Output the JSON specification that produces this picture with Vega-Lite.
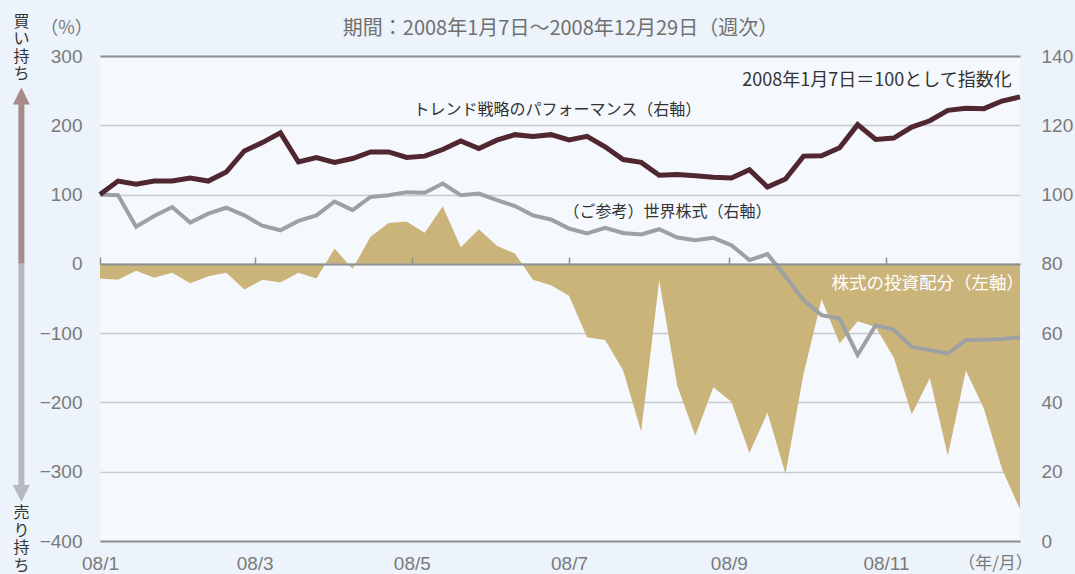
{
  "$schema": "https://vega.github.io/schema/vega-lite/v6.json",
  "width": 920,
  "height": 485,
  "autosize": {"type": "none"},
  "padding": {"left": 100, "top": 56, "right": 55, "bottom": 33},
  "background": "#ECF3FA",
  "config": {
    "view": {"fill": "#F5F9FD", "stroke": null},
    "font": "Noto Sans CJK JP",
    "axis": {
      "labelFont": "Liberation Sans",
      "labelFontSize": 19,
      "labelColor": "#7A7A7A",
      "labelFlush": false,
      "titleFont": "Noto Sans CJK JP",
      "titleFontWeight": "normal",
      "titleColor": "#707070",
      "grid": false,
      "ticks": false,
      "domain": false
    }
  },
  "data": {
    "values": [
      {"date": "2008-01-07", "alloc": -21, "perf": 100.0, "world": 100.0},
      {"date": "2008-01-14", "alloc": -23, "perf": 103.9, "world": 99.8},
      {"date": "2008-01-21", "alloc": -10, "perf": 103.0, "world": 90.7},
      {"date": "2008-01-28", "alloc": -20, "perf": 103.9, "world": 93.8},
      {"date": "2008-02-04", "alloc": -13, "perf": 103.9, "world": 96.4},
      {"date": "2008-02-11", "alloc": -28, "perf": 104.8, "world": 91.9},
      {"date": "2008-02-18", "alloc": -18, "perf": 103.9, "world": 94.5},
      {"date": "2008-02-25", "alloc": -13, "perf": 106.5, "world": 96.2},
      {"date": "2008-03-03", "alloc": -37, "perf": 112.6, "world": 94.0},
      {"date": "2008-03-10", "alloc": -23, "perf": 115.0, "world": 91.0},
      {"date": "2008-03-17", "alloc": -27, "perf": 117.8, "world": 89.7},
      {"date": "2008-03-24", "alloc": -13, "perf": 109.4, "world": 92.4},
      {"date": "2008-03-31", "alloc": -21, "perf": 110.7, "world": 94.0},
      {"date": "2008-04-07", "alloc": 22, "perf": 109.3, "world": 98.0},
      {"date": "2008-04-14", "alloc": -7, "perf": 110.4, "world": 95.5},
      {"date": "2008-04-21", "alloc": 39, "perf": 112.3, "world": 99.3},
      {"date": "2008-04-28", "alloc": 59, "perf": 112.3, "world": 99.8},
      {"date": "2008-05-05", "alloc": 61, "perf": 110.7, "world": 100.7},
      {"date": "2008-05-12", "alloc": 45, "perf": 111.1, "world": 100.5},
      {"date": "2008-05-19", "alloc": 83, "perf": 113.0, "world": 103.2},
      {"date": "2008-05-26", "alloc": 24, "perf": 115.5, "world": 99.8},
      {"date": "2008-06-02", "alloc": 50, "perf": 113.3, "world": 100.3},
      {"date": "2008-06-09", "alloc": 26, "perf": 115.7, "world": 98.4},
      {"date": "2008-06-16", "alloc": 15, "perf": 117.3, "world": 96.7},
      {"date": "2008-06-23", "alloc": -23, "perf": 116.8, "world": 94.0},
      {"date": "2008-06-30", "alloc": -31, "perf": 117.3, "world": 92.8},
      {"date": "2008-07-07", "alloc": -46, "perf": 115.8, "world": 90.2},
      {"date": "2008-07-14", "alloc": -106, "perf": 116.8, "world": 88.8},
      {"date": "2008-07-21", "alloc": -110, "perf": 113.8, "world": 90.4},
      {"date": "2008-07-28", "alloc": -154, "perf": 110.1, "world": 88.9},
      {"date": "2008-08-04", "alloc": -242, "perf": 109.3, "world": 88.5},
      {"date": "2008-08-11", "alloc": -24, "perf": 105.6, "world": 90.0},
      {"date": "2008-08-18", "alloc": -176, "perf": 105.8, "world": 87.6},
      {"date": "2008-08-25", "alloc": -248, "perf": 105.4, "world": 86.8},
      {"date": "2008-09-01", "alloc": -178, "perf": 105.0, "world": 87.5},
      {"date": "2008-09-08", "alloc": -199, "perf": 104.8, "world": 85.4},
      {"date": "2008-09-15", "alloc": -273, "perf": 107.2, "world": 81.1},
      {"date": "2008-09-22", "alloc": -215, "perf": 102.2, "world": 82.8},
      {"date": "2008-09-29", "alloc": -303, "perf": 104.5, "world": 76.4},
      {"date": "2008-10-06", "alloc": -159, "perf": 111.1, "world": 69.5},
      {"date": "2008-10-13", "alloc": -51, "perf": 111.2, "world": 65.2},
      {"date": "2008-10-20", "alloc": -115, "perf": 113.5, "world": 64.2},
      {"date": "2008-10-27", "alloc": -83, "perf": 120.2, "world": 53.7},
      {"date": "2008-11-03", "alloc": -91, "perf": 115.9, "world": 62.3},
      {"date": "2008-11-10", "alloc": -135, "perf": 116.3, "world": 61.0},
      {"date": "2008-11-17", "alloc": -217, "perf": 119.5, "world": 56.0},
      {"date": "2008-11-24", "alloc": -165, "perf": 121.3, "world": 55.1},
      {"date": "2008-12-01", "alloc": -277, "perf": 124.3, "world": 54.1},
      {"date": "2008-12-08", "alloc": -154, "perf": 124.9, "world": 58.0},
      {"date": "2008-12-15", "alloc": -209, "perf": 124.8, "world": 58.1},
      {"date": "2008-12-22", "alloc": -296, "perf": 127.0, "world": 58.3},
      {"date": "2008-12-29", "alloc": -354, "perf": 128.2, "world": 58.8}
    ]
  },
  "layer": [
    {
      "layer": [
        {
          "mark": {"type": "area", "color": "#CBB47A", "opacity": 1},
          "encoding": {
            "x": {
              "field": "date", "type": "temporal",
              "scale": {"type": "utc", "nice": false, "domain": [{"year": 2008, "month": 1, "date": 7, "utc": true}, {"year": 2008, "month": 12, "date": 29, "utc": true}]},
              "axis": {
                "orient": "bottom",
                "values": [
                  {"year": 2008, "month": 1, "date": 7, "utc": true},
                  {"year": 2008, "month": 3, "date": 7, "utc": true},
                  {"year": 2008, "month": 5, "date": 7, "utc": true},
                  {"year": 2008, "month": 7, "date": 7, "utc": true},
                  {"year": 2008, "month": 9, "date": 7, "utc": true},
                  {"year": 2008, "month": 11, "date": 7, "utc": true}
                ],
                "format": "%y/%-m",
                "labelBaseline": "middle",
                "labelPadding": 22,
                "labelAlign": "center",
                "domain": true, "domainColor": "#8E9194", "domainWidth": 2,
                "ticks": false, "grid": false,
                "title": "（年/月）",
                "titleX": 895, "titleY": 22,
                "titleAlign": "center", "titleBaseline": "middle", "titleAngle": 0,
                "titleFontSize": 17, "titleColor": "#7A7A7A"
              }
            },
            "y": {
              "field": "alloc", "type": "quantitative",
              "scale": {"domain": [-400, 300], "nice": false},
              "axis": {
                "orient": "left",
                "values": [-400, -300, -200, -100, 0, 100, 200, 300],
                "grid": true, "gridColor": "#C8CCD0", "gridWidth": 1.5,
                "labelPadding": 18,
                "title": "（%）",
                "titleAngle": 0, "titleX": -34, "titleY": -28,
                "titleAlign": "center", "titleBaseline": "middle",
                "titleFontSize": 18, "titleColor": "#7A7A7A"
              }
            },
            "y2": {"datum": 0}
          }
        },
        {
          "data": {"values": [{}]},
          "mark": {"type": "rule", "color": "#A88A8A", "strokeWidth": 6},
          "encoding": {
            "x": {"datum": {"year": 2007, "month": 12, "date": 7, "hours": 12, "utc": true}, "type": "temporal", "axis": null},
            "y": {"datum": 0, "type": "quantitative", "axis": null},
            "y2": {"datum": 230.7}
          }
        },
        {
          "data": {"values": [{}]},
          "mark": {"type": "point", "shape": "M-1,1L1,1L0,-1Z", "filled": true, "size": 289, "color": "#A88A8A", "opacity": 1, "strokeWidth": 0},
          "encoding": {
            "x": {"datum": {"year": 2007, "month": 12, "date": 7, "hours": 12, "utc": true}, "type": "temporal", "axis": null},
            "y": {"datum": 242.3, "type": "quantitative", "axis": null}
          }
        },
        {
          "data": {"values": [{}]},
          "mark": {"type": "rule", "color": "#B4BABE", "strokeWidth": 6},
          "encoding": {
            "x": {"datum": {"year": 2007, "month": 12, "date": 7, "hours": 12, "utc": true}, "type": "temporal", "axis": null},
            "y": {"datum": 0, "type": "quantitative", "axis": null},
            "y2": {"datum": -320.6}
          }
        },
        {
          "data": {"values": [{}]},
          "mark": {"type": "point", "shape": "M-1,-1L1,-1L0,1Z", "filled": true, "size": 289, "color": "#B4BABE", "opacity": 1, "strokeWidth": 0},
          "encoding": {
            "x": {"datum": {"year": 2007, "month": 12, "date": 7, "hours": 12, "utc": true}, "type": "temporal", "axis": null},
            "y": {"datum": -331.4, "type": "quantitative", "axis": null}
          }
        },
        {
          "data": {"values": [{}]},
          "mark": {"type": "text", "text": ["買", "い", "持", "ち"], "lineHeight": 17.5, "fontSize": 16, "color": "#333333", "align": "center", "baseline": "middle", "font": "Noto Sans CJK JP"},
          "encoding": {
            "x": {"datum": {"year": 2007, "month": 12, "date": 7, "hours": 12, "utc": true}, "type": "temporal", "axis": null},
            "y": {"datum": 349.1, "type": "quantitative", "axis": null}
          }
        },
        {
          "data": {"values": [{}]},
          "mark": {"type": "text", "text": ["売", "り", "持", "ち"], "lineHeight": 17.5, "fontSize": 16, "color": "#333333", "align": "center", "baseline": "middle", "font": "Noto Sans CJK JP"},
          "encoding": {
            "x": {"datum": {"year": 2007, "month": 12, "date": 7, "hours": 12, "utc": true}, "type": "temporal", "axis": null},
            "y": {"datum": -359.6, "type": "quantitative", "axis": null}
          }
        },
        {
          "data": {"values": [{}]},
          "mark": {"type": "text", "text": "株式の投資配分（左軸）", "fontSize": 17.5, "color": "#FFFFFF", "align": "center", "baseline": "middle", "font": "Noto Sans CJK JP"},
          "encoding": {
            "x": {"datum": {"year": 2008, "month": 11, "date": 23, "hours": 6, "utc": true}, "type": "temporal", "axis": null},
            "y": {"datum": -29.3, "type": "quantitative", "axis": null}
          }
        }
      ],
      "resolve": {"axis": {"x": "independent", "y": "independent"}}
    },
    {
      "layer": [
        {
          "mark": {"type": "line", "color": "#9DA1A4", "strokeWidth": 4},
          "encoding": {
            "x": {
              "field": "date", "type": "temporal",
              "scale": {"type": "utc", "nice": false, "domain": [{"year": 2008, "month": 1, "date": 7, "utc": true}, {"year": 2008, "month": 12, "date": 29, "utc": true}]},
              "axis": {
                "orient": "bottom", "offset": -277,
                "values": [
                  {"year": 2008, "month": 1, "date": 7, "utc": true},
                  {"year": 2008, "month": 3, "date": 7, "utc": true},
                  {"year": 2008, "month": 5, "date": 7, "utc": true},
                  {"year": 2008, "month": 7, "date": 7, "utc": true},
                  {"year": 2008, "month": 9, "date": 7, "utc": true},
                  {"year": 2008, "month": 11, "date": 7, "utc": true}
                ],
                "labels": false,
                "ticks": true, "tickSize": -7, "tickColor": "#8E9194", "tickWidth": 1.5,
                "domain": true, "domainColor": "#8E9194", "domainWidth": 2,
                "grid": false, "title": null, "zindex": 1
              }
            },
            "y": {"field": "world", "type": "quantitative", "scale": {"domain": [0, 140], "nice": false}, "axis": null}
          }
        },
        {
          "mark": {"type": "line", "color": "#502630", "strokeWidth": 5},
          "encoding": {
            "x": {
              "field": "date", "type": "temporal",
              "axis": {
                "orient": "top",
                "labels": false, "ticks": false, "grid": false,
                "domain": true, "domainColor": "#8E9194", "domainWidth": 2,
                "title": "期間：2008年1月7日～2008年12月29日（週次）",
                "titleX": 460, "titleY": -28,
                "titleAlign": "center", "titleBaseline": "middle", "titleAngle": 0,
                "titleFontSize": 20, "titleColor": "#707070"
              }
            },
            "y": {
              "field": "perf", "type": "quantitative",
              "scale": {"domain": [0, 140], "nice": false},
              "axis": {
                "orient": "right",
                "values": [0, 20, 40, 60, 80, 100, 120, 140],
                "labelPadding": 21, "labelAlign": "left",
                "title": null, "grid": false
              }
            }
          }
        },
        {
          "data": {"values": [{}]},
          "mark": {"type": "text", "text": "トレンド戦略のパフォーマンス（右軸）", "fontSize": 16, "color": "#333333", "align": "center", "baseline": "middle", "font": "Noto Sans CJK JP"},
          "encoding": {
            "x": {"datum": {"year": 2008, "month": 7, "date": 2, "hours": 12, "utc": true}, "type": "temporal", "axis": null},
            "y": {"datum": 124.4, "type": "quantitative", "axis": null}
          }
        },
        {
          "data": {"values": [{}]},
          "mark": {"type": "text", "text": "（ご参考）世界株式（右軸）", "fontSize": 16, "color": "#333333", "align": "center", "baseline": "middle", "font": "Noto Sans CJK JP"},
          "encoding": {
            "x": {"datum": {"year": 2008, "month": 8, "date": 14, "hours": 5, "utc": true}, "type": "temporal", "axis": null},
            "y": {"datum": 95.1, "type": "quantitative", "axis": null}
          }
        },
        {
          "data": {"values": [{}]},
          "mark": {"type": "text", "text": "2008年1月7日＝100として指数化", "fontSize": 18, "color": "#333333", "align": "center", "baseline": "middle", "font": "Noto Sans CJK JP"},
          "encoding": {
            "x": {"datum": {"year": 2008, "month": 11, "date": 3, "hours": 12, "utc": true}, "type": "temporal", "axis": null},
            "y": {"datum": 132.8, "type": "quantitative", "axis": null}
          }
        }
      ],
      "resolve": {"axis": {"x": "independent", "y": "independent"}}
    }
  ],
  "resolve": {"scale": {"y": "independent"}, "axis": {"x": "independent", "y": "independent"}}
}
